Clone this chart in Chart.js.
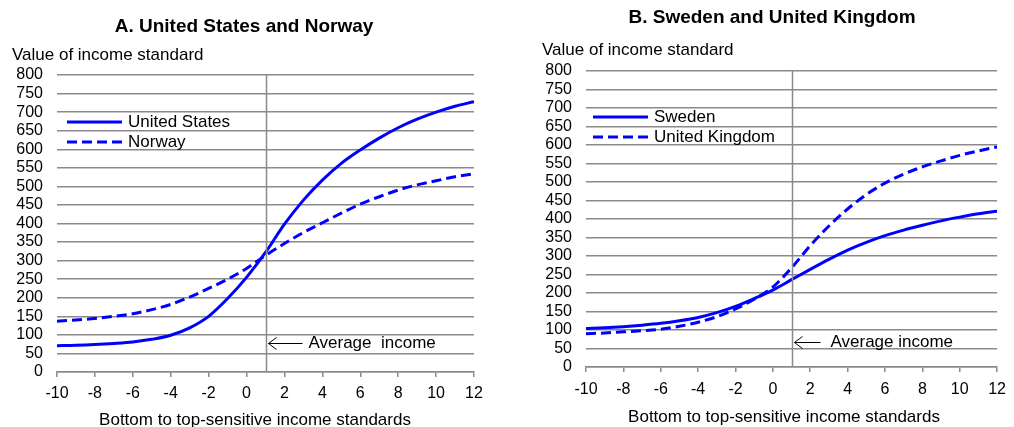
<!DOCTYPE html>
<html>
<head>
<meta charset="utf-8">
<script src="https://cdn.jsdelivr.net/npm/chart.js@4"></script>
<style>
  body { margin: 0; background: #fff; }
  #wrap { position: relative; width: 1014px; height: 427px; }
  .panel { position: absolute; top: 0; width: 507px; height: 427px; }
</style>
</head>
<body>
<div id="wrap">
  <div class="panel" style="left:0"><canvas id="chartA" width="507" height="427"></canvas></div>
  <div class="panel" style="left:507px"><canvas id="chartB" width="507" height="427"></canvas></div>
</div>
<script>
// Sumbu x: -10 .. 12
const xValues = [-10, -9, -8, -7, -6, -5, -4, -3, -2, -1, 0, 1, 2, 3, 4, 5, 6, 7, 8, 9, 10, 11, 12];

// Panel A
const usValues     = [71, 72, 74, 77, 81, 88, 99, 119, 150, 198, 255, 322, 398, 463, 517, 562, 598, 630, 658, 681, 700, 716, 728];
const norwayValues = [137, 140, 144, 150, 157, 168, 182, 202, 225, 250, 279, 314, 346, 376, 402, 428, 452, 472, 490, 504, 515, 526, 534];

// Panel B
const swedenValues = [104, 106, 109, 113, 118, 125, 134, 147, 164, 185, 208, 236, 264, 291, 316, 337, 355, 370, 383, 395, 405, 414, 421];
const ukValues     = [90, 92, 95, 98, 102, 110, 121, 136, 157, 183, 216, 268, 328, 381, 427, 466, 497, 521, 541, 557, 572, 584, 595];

const yTicks = { min: 0, max: 800, step: 50 };
const xTicks = { min: -10, max: 12, step: 2 };
const averageIncomeX = 1;

const FONT = "'Liberation Sans', Arial, sans-serif";
const BLUE = '#0000ff';
const GRID = '#8a8a8a';

// Gambar judul, label sumbu, garis rata-rata, panah dan legenda
const overlayPlugin = {
  id: 'overlay',
  afterDraw(chart, args, opts) {
    const ctx = chart.ctx;
    const area = chart.chartArea;
    const xs = chart.scales.x, ys = chart.scales.y;
    ctx.save();

    // Judul panel
    ctx.fillStyle = '#000';
    ctx.font = 'bold 19px ' + FONT;
    ctx.textAlign = 'center';
    ctx.textBaseline = 'middle';
    ctx.fillText(opts.title, opts.titleX, opts.titleY);

    // Judul sumbu x
    ctx.font = '17px ' + FONT;
    ctx.fillText('Bottom to top-sensitive income standards', opts.xLabelX, opts.xLabelY);

    // Label sumbu y (horizontal, di atas)
    ctx.textAlign = 'left';
    ctx.fillText('Value of income standard', opts.yLabelX, opts.yLabelY);

    // Garis vertikal rata-rata
    const vx = Math.round(xs.getPixelForValue(averageIncomeX)) + 0.5;
    ctx.strokeStyle = GRID;
    ctx.lineWidth = 1.5;
    ctx.beginPath();
    ctx.moveTo(vx, area.top);
    ctx.lineTo(vx, area.bottom);
    ctx.stroke();

    // Panah "Average income"
    const ay = Math.round(ys.getPixelForValue(opts.arrowValue)) + 0.5;
    ctx.strokeStyle = '#000';
    ctx.lineWidth = 1;
    ctx.beginPath();
    ctx.moveTo(vx + opts.arrowLen, ay);
    ctx.lineTo(vx + 2, ay);
    ctx.moveTo(vx + 10, ay - 6);
    ctx.lineTo(vx + 2, ay);
    ctx.lineTo(vx + 10, ay + 6);
    ctx.stroke();
    ctx.fillStyle = '#000';
    ctx.fillText(opts.arrowText, vx + opts.textGap, ay);

    // Legenda
    chart.data.datasets.forEach((ds, i) => {
      const ly = opts.legendY[i];
      ctx.strokeStyle = ds.borderColor;
      ctx.lineWidth = 3;
      ctx.setLineDash(ds.borderDash || []);
      ctx.beginPath();
      ctx.moveTo(opts.legendX, ly);
      ctx.lineTo(opts.legendX + 55, ly);
      ctx.stroke();
      ctx.setLineDash([]);
      ctx.fillStyle = '#000';
      ctx.fillText(ds.label, opts.legendX + 61, ly);
    });
    ctx.restore();
  }
};

function makeChart(id, series, cfg) {
  const datasets = series.map(s => ({
    label: s.label,
    data: xValues.map((x, i) => ({ x: x, y: s.values[i] })),
    borderColor: BLUE,
    borderWidth: 3,
    borderDash: s.dashed ? [10, 5] : [],
    pointRadius: 0,
    cubicInterpolationMode: 'monotone',
    fill: false
  }));

  return new Chart(document.getElementById(id), {
    type: 'line',
    data: { datasets: datasets },
    plugins: [overlayPlugin],
    options: {
      responsive: false,
      animation: false,
      layout: { padding: { top: cfg.top, right: cfg.right, left: 0, bottom: 0 } },
      plugins: {
        legend: { display: false },
        tooltip: { enabled: false },
        overlay: cfg.overlay
      },
      scales: {
        x: {
          type: 'linear',
          min: xTicks.min, max: xTicks.max,
          afterFit: s => { s.height = cfg.xHeight; },
          ticks: { stepSize: xTicks.step, autoSkip: false, maxRotation: 0, color: '#000', padding: cfg.xPad, font: { family: FONT, size: 16 } },
          grid: { drawOnChartArea: false, drawTicks: true, tickLength: 5, color: GRID, lineWidth: 1.5 },
          border: { display: true, color: GRID, width: 1.5 }
        },
        y: {
          min: yTicks.min, max: yTicks.max,
          afterFit: s => { s.width = cfg.yWidth; },
          ticks: { stepSize: yTicks.step, autoSkip: false, color: '#000', padding: 14, font: { family: FONT, size: 16 } },
          grid: { drawTicks: false, color: GRID, lineWidth: 1.5 },
          border: { display: false }
        }
      }
    }
  });
}

makeChart('chartA', [
  { label: 'United States', values: usValues, dashed: false },
  { label: 'Norway', values: norwayValues, dashed: true }
], {
  top: 75, right: 33, xHeight: 55, xPad: 7, yWidth: 57,
  overlay: {
    title: 'A. United States and Norway', titleX: 244, titleY: 27,
    xLabelX: 255, xLabelY: 420,
    yLabelX: 12, yLabelY: 55,
    arrowValue: 77, arrowLen: 36, textGap: 42, arrowText: 'Average  income',
    legendX: 67, legendY: [122, 142]
  }
});

makeChart('chartB', [
  { label: 'Sweden', values: swedenValues, dashed: false },
  { label: 'United Kingdom', values: ukValues, dashed: true }
], {
  top: 71, right: 10, xHeight: 60, xPad: 8, yWidth: 79,
  overlay: {
    title: 'B. Sweden and United Kingdom', titleX: 265, titleY: 18,
    xLabelX: 277, xLabelY: 417,
    yLabelX: 35, yLabelY: 50,
    arrowValue: 67, arrowLen: 28, textGap: 38, arrowText: 'Average income',
    legendX: 86, legendY: [117, 137]
  }
});
</script>
</body>
</html>
